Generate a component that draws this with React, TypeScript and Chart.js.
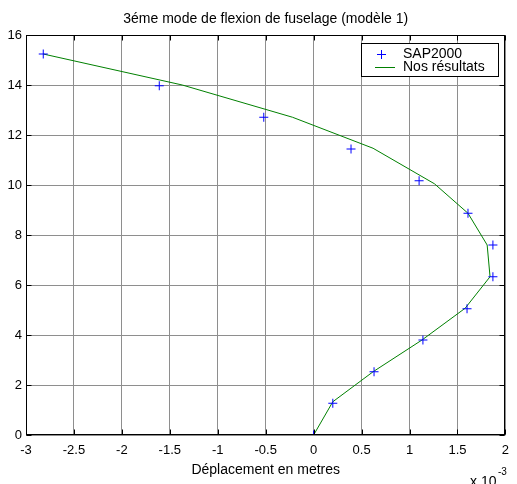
import { useEffect, useRef } from "react";
import { Chart, registerables } from "chart.js";

Chart.register(...registerables);

// Displacements are in units of 1e-3 m, heights in metres.
const sapX = [0, 0.2, 0.63, 1.14, 1.6, 1.87, 1.87, 1.61, 1.1, 0.39, -0.52, -1.61, -2.82];
const sapY = [0, 1.27, 2.53, 3.8, 5.05, 6.33, 7.6, 8.87, 10.17, 11.44, 12.71, 13.97, 15.24];
const modelX = [0, 0.2, 0.62, 1.13, 1.58, 1.84, 1.81, 1.61, 1.26, 0.62, -0.22, -1.37, -2.82];
const modelY = [0, 1.33, 2.53, 3.8, 5.07, 6.33, 7.6, 8.87, 10.05, 11.47, 12.71, 14.0, 15.24];

const xTicks = [-3, -2.5, -2, -1.5, -1, -0.5, 0, 0.5, 1, 1.5, 2];
const yTicks = [0, 2, 4, 6, 8, 10, 12, 14, 16];

const titleText = "3éme mode de flexion de fuselage (modèle 1)";
const xTitleText = "Déplacement en metres";
const legendLabels = ["SAP2000", "Nos résultats"];

const FONT = "'Liberation Sans', Arial, Helvetica, sans-serif";
const BLUE = "#0000ff";
const GREEN = "#008000";

const decor = {
  id: "decor",
  afterDatasetsDraw(chart: any) {
    const { ctx, chartArea: a } = chart;
    const xs = chart.scales.x;
    const ys = chart.scales.y;
    ctx.save();
    ctx.strokeStyle = "#000";
    ctx.lineWidth = 1;
    const L = Math.round(a.left) + 0.5;
    const R = Math.round(a.right) - 0.5;
    const T = Math.round(a.top) + 0.5;
    const B = Math.round(a.bottom) - 0.5;
    ctx.strokeRect(L, T, R - L, B - T);
    // inward tick marks on all four sides
    ctx.beginPath();
    const tl = 5;
    for (const v of xTicks) {
      const px = Math.round(xs.getPixelForValue(v)) + 0.5;
      ctx.moveTo(px, B);
      ctx.lineTo(px, B - tl);
      ctx.moveTo(px, T);
      ctx.lineTo(px, T + tl);
    }
    for (const v of yTicks) {
      const py = Math.round(ys.getPixelForValue(v)) + 0.5;
      ctx.moveTo(L, py);
      ctx.lineTo(L + tl, py);
      ctx.moveTo(R, py);
      ctx.lineTo(R - tl, py);
    }
    ctx.stroke();
    ctx.restore();
  },
  afterDraw(chart: any) {
    const { ctx, chartArea: a } = chart;
    const cx = (a.left + a.right) / 2;
    ctx.save();
    ctx.fillStyle = "#000";
    ctx.textAlign = "center";
    ctx.textBaseline = "middle";
    ctx.font = `14px ${FONT}`;
    ctx.fillText(titleText, cx, 19);
    ctx.fillText(xTitleText, cx, 470);

    // axis multiplier
    ctx.textAlign = "left";
    ctx.textBaseline = "alphabetic";
    ctx.font = `14px ${FONT}`;
    ctx.fillText("x 10", 470, 486);
    ctx.font = `10px ${FONT}`;
    ctx.fillText("-3", 498, 475);

    // legend
    const bx = 361.5, by = 43.5, bw = 137, bh = 33;
    ctx.fillStyle = "#fff";
    ctx.fillRect(bx, by, bw, bh);
    ctx.strokeStyle = "#000";
    ctx.lineWidth = 1;
    ctx.strokeRect(bx, by, bw, bh);

    ctx.strokeStyle = BLUE;
    ctx.beginPath();
    ctx.moveTo(377, 54.5);
    ctx.lineTo(386, 54.5);
    ctx.moveTo(381.5, 50);
    ctx.lineTo(381.5, 59);
    ctx.stroke();

    ctx.strokeStyle = GREEN;
    ctx.beginPath();
    ctx.moveTo(375, 67.5);
    ctx.lineTo(395, 67.5);
    ctx.stroke();

    ctx.fillStyle = "#000";
    ctx.font = `14px ${FONT}`;
    ctx.textBaseline = "middle";
    ctx.fillText(legendLabels[0], 403, 54);
    ctx.fillText(legendLabels[1], 403, 67);
    ctx.restore();
  },
};

export default function App() {
  const ref = useRef<HTMLCanvasElement>(null);

  useEffect(() => {
    if (!ref.current) return;
    const chart = new Chart(ref.current, {
      type: "scatter",
      data: {
        datasets: [
          {
            label: legendLabels[0],
            data: sapX.map((x, i) => ({ x, y: sapY[i] })),
            showLine: false,
            pointStyle: "cross",
            pointRadius: 4.5,
            pointBorderWidth: 1,
            borderColor: BLUE,
            backgroundColor: BLUE,
            order: 0,
          },
          {
            label: legendLabels[1],
            data: modelX.map((x, i) => ({ x, y: modelY[i] })),
            showLine: true,
            borderColor: GREEN,
            borderWidth: 1,
            pointRadius: 0,
            tension: 0,
            order: 1,
          },
        ],
      },
      options: {
        responsive: false,
        animation: false,
        devicePixelRatio: 1,
        layout: { padding: { top: 35, right: 10, left: 0, bottom: 0 } },
        plugins: {
          legend: { display: false },
          title: { display: false },
          tooltip: { enabled: false },
        },
        scales: {
          x: {
            type: "linear",
            min: -3,
            max: 2,
            afterBuildTicks: (s: any) => {
              s.ticks = xTicks.map((value) => ({ value }));
            },
            afterFit: (s: any) => {
              s.height = 49;
            },
            border: { display: false },
            grid: { color: "#8e8e8e", lineWidth: 1, drawTicks: false },
            ticks: {
              padding: 8,
              color: "#000",
              font: { family: FONT, size: 13 },
              maxRotation: 0,
              autoSkip: false,
              callback: (v: any) => String(v),
            },
          },
          y: {
            type: "linear",
            min: 0,
            max: 16,
            afterBuildTicks: (s: any) => {
              s.ticks = yTicks.map((value) => ({ value }));
            },
            afterFit: (s: any) => {
              s.width = 26;
            },
            border: { display: false },
            grid: { color: "#8e8e8e", lineWidth: 1, drawTicks: false },
            ticks: {
              padding: 4,
              color: "#000",
              font: { family: FONT, size: 13 },
              autoSkip: false,
              callback: (v: any) => String(v),
            },
          },
        },
      },
      plugins: [decor],
    });
    return () => chart.destroy();
  }, []);

  return (
    <div style={{ position: "fixed", left: 0, top: 0, width: 517, height: 484, background: "#fff" }}>
      <canvas ref={ref} width={517} height={484} style={{ width: 517, height: 484, display: "block" }} />
    </div>
  );
}
